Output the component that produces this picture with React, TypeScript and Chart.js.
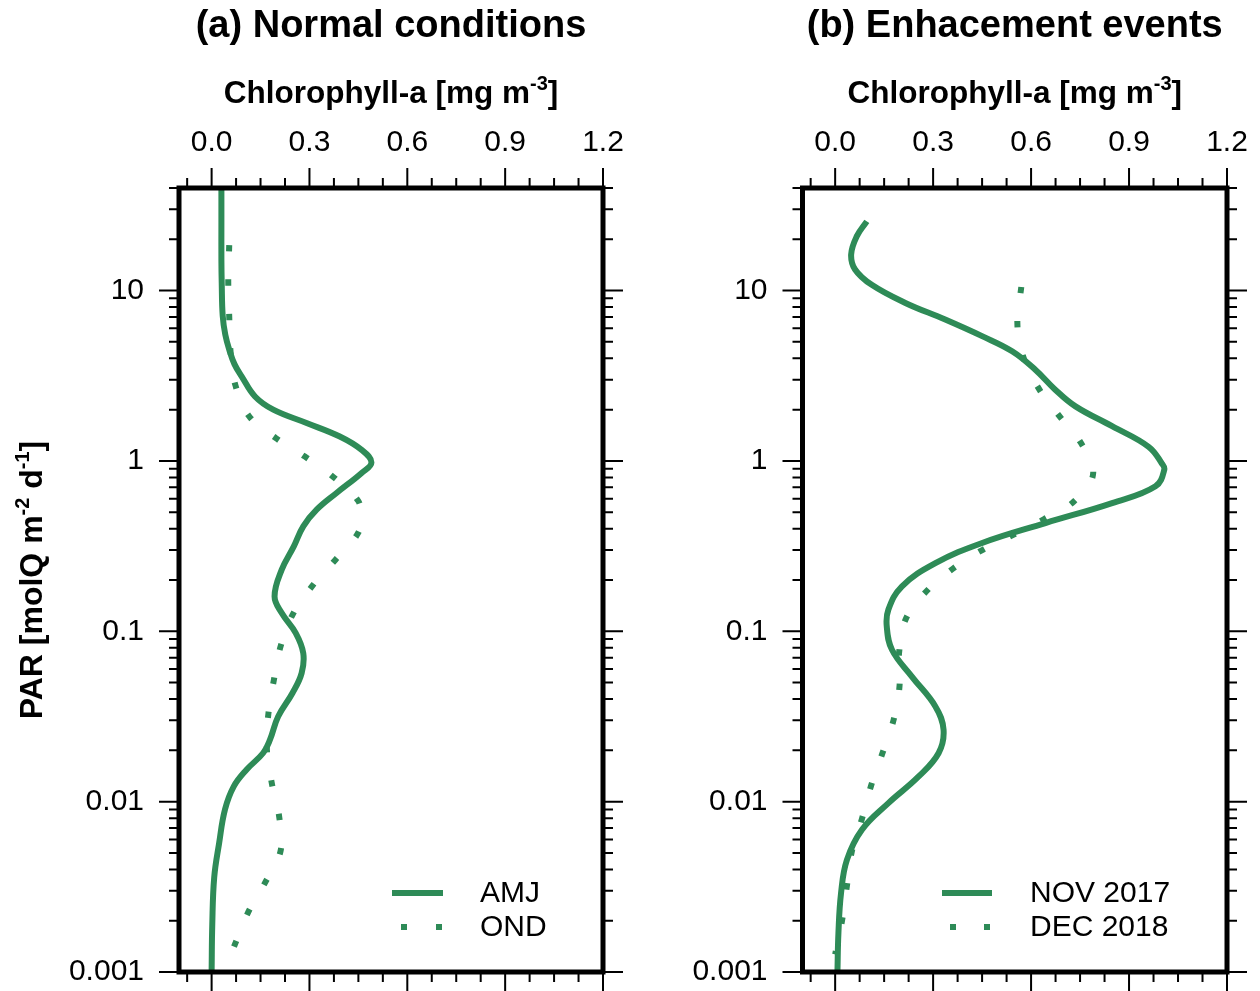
import React, { useEffect, useRef } from 'react';
import { Chart, registerables } from 'chart.js';

Chart.register(...registerables);

const FONT = "'Liberation Sans', Arial, Helvetica, sans-serif";
const GREEN = '#2E8B57';
const DOT_DASH = [6, 28.5];

// ---- axis ticks ----
const xTickValues = [0, 0.3, 0.6, 0.9, 1.2];
const yTickValues = [0.001, 0.01, 0.1, 1, 10];
const yTickLabels = ['0.001', '0.01', '0.1', '1', '10'];
const X_MIN = -0.1;
const X_MAX = 1.2;
const Y_MIN = 0.001;
const Y_MAX = 40;

// ---- text ----
const panelTitles = ['(a) Normal conditions', '(b) Enhacement events'];
const xTitleParts = [
  { text: 'Chlorophyll-a [mg m', sup: false },
  { text: '-3', sup: true },
  { text: ']', sup: false },
];
const yTitleParts = [
  { text: 'PAR [molQ m', sup: false },
  { text: '-2', sup: true },
  { text: ' d', sup: false },
  { text: '-1', sup: true },
  { text: ']', sup: false },
];

// ---- (a) AMJ (solid) ----
const amjPar = [40, 25, 15, 11, 7.1, 5.5, 4.5, 3.7, 3.14, 2.39, 2.0, 1.67, 1.39, 1.16, 0.98, 0.85, 0.648, 0.517, 0.413, 0.315, 0.23, 0.16, 0.128, 0.0976, 0.0744, 0.0568, 0.0434, 0.0316, 0.0231, 0.0193, 0.0154, 0.0123, 0.009, 0.0057, 0.0036, 0.0019, 0.001];
const amjChl = [0.03, 0.03, 0.03, 0.031, 0.034, 0.042, 0.054, 0.07, 0.092, 0.133, 0.189, 0.291, 0.393, 0.46, 0.49, 0.46, 0.383, 0.322, 0.281, 0.252, 0.215, 0.193, 0.215, 0.258, 0.281, 0.276, 0.248, 0.204, 0.179, 0.158, 0.107, 0.068, 0.041, 0.023, 0.008, 0.002, 0.0];

// ---- (a) OND (dotted) ----
const ondPar = [18.5, 11.3, 7.06, 4.4, 2.78, 1.83, 1.36, 1.06, 0.805, 0.585, 0.47, 0.377, 0.263, 0.186, 0.127, 0.0822, 0.0519, 0.0327, 0.021, 0.013, 0.0082, 0.0052, 0.0034, 0.00226, 0.0014];
const ondChl = [0.054, 0.051, 0.054, 0.058, 0.073, 0.115, 0.197, 0.286, 0.373, 0.449, 0.455, 0.449, 0.38, 0.31, 0.25, 0.212, 0.191, 0.174, 0.169, 0.184, 0.207, 0.212, 0.166, 0.113, 0.068];

// ---- (b) NOV 2017 (solid) ----
const nov17Par = [25.5, 20.8, 16.3, 13.3, 10.8, 8.46, 6.76, 5.4, 4.4, 3.43, 2.62, 2.09, 1.6, 1.21, 0.97, 0.889, 0.71, 0.566, 0.432, 0.33, 0.251, 0.183, 0.134, 0.107, 0.0779, 0.0542, 0.0362, 0.0264, 0.0193, 0.014, 0.0098, 0.00684, 0.00455, 0.0029, 0.00169, 0.001];
const nov17Chl = [0.097, 0.066, 0.049, 0.061, 0.112, 0.215, 0.337, 0.45, 0.542, 0.613, 0.674, 0.736, 0.848, 0.96, 1.0, 1.008, 0.981, 0.848, 0.644, 0.45, 0.307, 0.204, 0.163, 0.158, 0.174, 0.235, 0.307, 0.332, 0.317, 0.255, 0.163, 0.082, 0.036, 0.018, 0.01, 0.007];

// ---- (b) DEC 2018 (dotted) ----
const dec18Par = [10.5, 6.46, 4.15, 2.71, 1.85, 1.29, 0.841, 0.578, 0.456, 0.369, 0.301, 0.235, 0.173, 0.12, 0.0755, 0.0474, 0.0302, 0.0193, 0.0124, 0.00792, 0.0051, 0.0032, 0.002, 0.00127];
const dec18Chl = [0.57, 0.558, 0.575, 0.621, 0.685, 0.751, 0.79, 0.731, 0.64, 0.547, 0.452, 0.363, 0.281, 0.218, 0.196, 0.197, 0.179, 0.145, 0.11, 0.082, 0.051, 0.036, 0.021, 0.0];

type Series = { label: string; par: number[]; chl: number[]; dotted: boolean };
type Panel = {
  title: string;
  canvasLeft: number;
  areaLeft: number;
  areaRight: number;
  yTitle: boolean;
  legend: { lineX0: number; lineX1: number; dotX: number[]; textX: number };
  series: Series[];
};

const CANVAS_W = 630;
const CANVAS_H = 991;
const AREA_TOP = 188;
const AREA_BOTTOM = 972;
const TITLE_SIZE = 38;
const TITLE_PAD_TOP = 4;
const TICK_SIZE = 30;
const AXIS_TITLE_SIZE = 31.5;

const PANELS: Panel[] = [
  {
    title: panelTitles[0],
    canvasLeft: 0,
    areaLeft: 179,
    areaRight: 603,
    yTitle: true,
    legend: { lineX0: 392, lineX1: 443, dotX: [404, 439], textX: 480 },
    series: [
      { label: 'AMJ', par: amjPar, chl: amjChl, dotted: false },
      { label: 'OND', par: ondPar, chl: ondChl, dotted: true },
    ],
  },
  {
    title: panelTitles[1],
    canvasLeft: 630,
    areaLeft: 172.5,
    areaRight: 597,
    yTitle: false,
    legend: { lineX0: 312, lineX1: 362, dotX: [323, 357], textX: 400 },
    series: [
      { label: 'NOV 2017', par: nov17Par, chl: nov17Chl, dotted: false },
      { label: 'DEC 2018', par: dec18Par, chl: dec18Chl, dotted: true },
    ],
  },
];

function drawRich(ctx: CanvasRenderingContext2D, parts: { text: string; sup: boolean }[], cx: number, baseY: number, size: number) {
  const base = `bold ${size}px ${FONT}`;
  const supSize = Math.round(size * 0.62);
  const sup = `bold ${supSize}px ${FONT}`;
  let total = 0;
  const widths = parts.map((p) => {
    ctx.font = p.sup ? sup : base;
    const w = ctx.measureText(p.text).width;
    total += w;
    return w;
  });
  let x = cx - total / 2;
  ctx.textAlign = 'left';
  ctx.textBaseline = 'alphabetic';
  parts.forEach((p, i) => {
    ctx.font = p.sup ? sup : base;
    ctx.fillText(p.text, x, p.sup ? baseY - size * 0.4 : baseY);
    x += widths[i];
  });
}

function PanelChart({ panel }: { panel: Panel }) {
  const ref = useRef<HTMLCanvasElement>(null);

  useEffect(() => {
    const canvas = ref.current;
    if (!canvas) return;

    const framePlugin = {
      id: 'frame',
      afterDraw(chart: any) {
        const ctx: CanvasRenderingContext2D = chart.ctx;
        const { left, right, top, bottom } = chart.chartArea;
        const xs = chart.scales.x;
        const ys = chart.scales.y;
        ctx.save();
        ctx.strokeStyle = '#000';
        ctx.fillStyle = '#000';
        ctx.lineCap = 'butt';

        // tick marks
        ctx.lineWidth = 2;
        ctx.beginPath();
        for (let i = -1; i <= 16; i++) {
          const v = i * 0.075;
          if (v < X_MIN - 1e-9 || v > X_MAX + 1e-9) continue;
          const px = xs.getPixelForValue(v);
          const len = i % 4 === 0 ? 20 : 10;
          ctx.moveTo(px, top);
          ctx.lineTo(px, top - len);
          ctx.moveTo(px, bottom);
          ctx.lineTo(px, bottom + len);
        }
        for (let k = -3; k <= 1; k++) {
          for (let m = 1; m <= 9; m++) {
            const v = m * Math.pow(10, k);
            if (v > Y_MAX * 1.0001) break;
            const py = ys.getPixelForValue(v);
            const len = m === 1 ? 20 : 10;
            ctx.moveTo(left, py);
            ctx.lineTo(left - len, py);
            ctx.moveTo(right, py);
            ctx.lineTo(right + len, py);
          }
        }
        ctx.stroke();

        // frame
        ctx.lineWidth = 5;
        ctx.strokeRect(left, top, right - left, bottom - top);

        // axis titles
        drawRich(ctx, xTitleParts, (left + right) / 2, 103, AXIS_TITLE_SIZE);
        if (panel.yTitle) {
          ctx.save();
          ctx.translate(42, (top + bottom) / 2);
          ctx.rotate(-Math.PI / 2);
          drawRich(ctx, yTitleParts, 0, 0, 32);
          ctx.restore();
        }

        // legend
        const lg = panel.legend;
        const rows = [893, 927];
        panel.series.forEach((s, i) => {
          const y = rows[i];
          ctx.fillStyle = GREEN;
          ctx.strokeStyle = GREEN;
          if (s.dotted) {
            lg.dotX.forEach((dx) => ctx.fillRect(dx - 3, y - 3, 6, 6));
          } else {
            ctx.lineWidth = 6;
            ctx.beginPath();
            ctx.moveTo(lg.lineX0, y);
            ctx.lineTo(lg.lineX1, y);
            ctx.stroke();
          }
          ctx.fillStyle = '#000';
          ctx.font = `30px ${FONT}`;
          ctx.textAlign = 'left';
          ctx.textBaseline = 'middle';
          ctx.fillText(s.label, lg.textX, y + 1);
        });
        ctx.restore();
      },
    };

    const chart = new Chart(canvas, {
      type: 'scatter',
      data: {
        datasets: panel.series.map((s) => ({
          label: s.label,
          data: s.chl.map((c, i) => ({ x: c, y: s.par[i] })),
          showLine: true,
          borderColor: GREEN,
          backgroundColor: GREEN,
          borderWidth: 6,
          borderDash: s.dotted ? DOT_DASH : [],
          borderCapStyle: 'butt',
          borderJoinStyle: 'round',
          pointRadius: 0,
          pointHoverRadius: 0,
          tension: 0.4,
          fill: false,
        })),
      },
      options: {
        animation: false,
        responsive: false,
        maintainAspectRatio: false,
        devicePixelRatio: 1,
        events: [],
        layout: {
          padding: { left: 0, right: CANVAS_W - panel.areaRight, top: 0, bottom: CANVAS_H - AREA_BOTTOM },
        },
        plugins: {
          legend: { display: false },
          tooltip: { enabled: false },
          title: {
            display: true,
            text: panel.title,
            fullSize: false,
            color: '#000',
            font: { family: FONT, size: TITLE_SIZE, weight: 'bold' },
            padding: { top: TITLE_PAD_TOP, bottom: 0 },
          },
        },
        scales: {
          x: {
            type: 'linear',
            position: 'top',
            min: X_MIN,
            max: X_MAX,
            grid: { display: false, drawTicks: false },
            border: { display: false },
            ticks: {
              autoSkip: false,
              maxRotation: 0,
              padding: 27,
              color: '#000',
              font: { family: FONT, size: TICK_SIZE },
              callback: (v: any) => Number(v).toFixed(1),
            },
            afterBuildTicks: (scale: any) => {
              scale.ticks = xTickValues.map((v) => ({ value: v }));
            },
            afterFit: (scale: any) => {
              scale.height = AREA_TOP - (TITLE_SIZE * 1.2 + TITLE_PAD_TOP);
              scale.paddingLeft = 0;
              scale.paddingRight = 0;
              scale.paddingTop = 0;
              scale.paddingBottom = 0;
            },
          },
          y: {
            type: 'logarithmic',
            position: 'left',
            min: Y_MIN,
            max: Y_MAX,
            grid: { display: false, drawTicks: false },
            border: { display: false },
            ticks: {
              autoSkip: false,
              padding: 35,
              color: '#000',
              font: { family: FONT, size: TICK_SIZE },
              callback: (v: any) => {
                const idx = yTickValues.findIndex((t) => Math.abs(t - Number(v)) / t < 1e-6);
                return idx >= 0 ? yTickLabels[idx] : '';
              },
            },
            afterBuildTicks: (scale: any) => {
              scale.ticks = yTickValues.map((v) => ({ value: v }));
            },
            afterFit: (scale: any) => {
              scale.width = panel.areaLeft;
              scale.paddingLeft = 0;
              scale.paddingRight = 0;
              scale.paddingTop = 0;
              scale.paddingBottom = 0;
            },
          },
        },
      } as any,
      plugins: [framePlugin],
    });

    return () => chart.destroy();
  }, [panel]);

  return (
    <canvas
      ref={ref}
      width={CANVAS_W}
      height={CANVAS_H}
      style={{ position: 'absolute', left: panel.canvasLeft, top: 0, width: CANVAS_W, height: CANVAS_H, display: 'block' }}
    />
  );
}

export default function App() {
  return (
    <div>
      {PANELS.map((p, i) => (
        <PanelChart key={i} panel={p} />
      ))}
    </div>
  );
}
